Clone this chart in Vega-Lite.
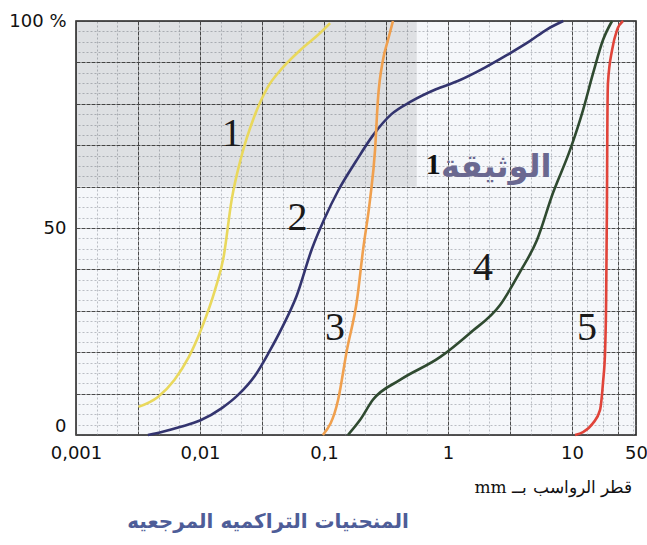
{
  "$schema": "https://vega.github.io/schema/vega-lite/v6.json",
  "width": 560,
  "height": 414,
  "autosize": {"type": "none"},
  "padding": {"left": 76, "top": 21, "right": 11, "bottom": 110},
  "background": "#ffffff",
  "config": {
    "view": {"stroke": "#1e1e1e", "strokeWidth": 1.5, "fill": "#f5f7fa"},
    "font": "DejaVu Sans"
  },
  "title": {
    "text": "المنحنيات التراكميه المرجعيه",
    "orient": "bottom",
    "anchor": "middle",
    "frame": "group",
    "dx": -88,
    "offset": 17,
    "font": "DejaVu Sans",
    "fontSize": 20,
    "fontWeight": "bold",
    "color": "#4e5d98"
  },
  "layer": [
    {
      "data": {"values": [{"band": "upper"}]},
      "mark": {"type": "rect", "fill": "#000000", "opacity": 0.09},
      "encoding": {
        "x": {
          "datum": 0.001, "type": "quantitative",
          "scale": {"type": "log", "domain": [0.001, 10, 50], "range": [0, 496, 560]},
          "axis": {
            "orient": "top",
            "values": [0.001468, 0.002154, 0.004642, 0.006813, 0.01468, 0.02154, 0.04642, 0.06813, 0.1468, 0.2154, 0.4642, 0.6813, 1.468, 2.154, 4.642, 6.813, 14.68, 21.54, 46.42],
            "grid": true, "gridColor": "#8a8f99", "gridDash": [2, 2], "gridWidth": 0.7, "gridOpacity": 0.8,
            "labels": false, "ticks": false, "domain": false, "title": null
          }
        },
        "x2": {"datum": 0.56},
        "y": {
          "datum": 60, "type": "quantitative",
          "scale": {"domain": [0, 100], "nice": false},
          "axis": {
            "orient": "right",
            "values": [2.5, 5, 7.5, 12.5, 15, 17.5, 22.5, 25, 27.5, 32.5, 35, 37.5, 42.5, 45, 47.5, 52.5, 55, 57.5, 62.5, 65, 67.5, 72.5, 75, 77.5, 82.5, 85, 87.5, 92.5, 95, 97.5],
            "grid": true, "gridColor": "#8a8f99", "gridDash": [2, 2], "gridWidth": 0.7, "gridOpacity": 0.8,
            "labels": false, "ticks": false, "domain": false, "title": null
          }
        },
        "y2": {"datum": 100}
      }
    },
    {
      "data": {
        "values": [
          {"curve": "1", "d": 0.00319, "p": 6.8},
          {"curve": "1", "d": 0.00458, "p": 9.2},
          {"curve": "1", "d": 0.00621, "p": 13.3},
          {"curve": "1", "d": 0.00811, "p": 18.8},
          {"curve": "1", "d": 0.0104, "p": 26.1},
          {"curve": "1", "d": 0.0132, "p": 35},
          {"curve": "1", "d": 0.0155, "p": 43},
          {"curve": "1", "d": 0.018, "p": 56.8},
          {"curve": "1", "d": 0.0215, "p": 67.1},
          {"curve": "1", "d": 0.0273, "p": 76.8},
          {"curve": "1", "d": 0.0353, "p": 84.1},
          {"curve": "1", "d": 0.0448, "p": 88.2},
          {"curve": "1", "d": 0.0645, "p": 93},
          {"curve": "1", "d": 0.093, "p": 97.1},
          {"curve": "1", "d": 0.112, "p": 99.5},
          {"curve": "2", "d": 0.0038, "p": 0},
          {"curve": "2", "d": 0.005, "p": 0.8},
          {"curve": "2", "d": 0.007, "p": 2},
          {"curve": "2", "d": 0.01, "p": 3.5},
          {"curve": "2", "d": 0.015, "p": 6.5},
          {"curve": "2", "d": 0.02, "p": 9.5},
          {"curve": "2", "d": 0.028, "p": 14.5},
          {"curve": "2", "d": 0.036, "p": 20},
          {"curve": "2", "d": 0.046, "p": 26},
          {"curve": "2", "d": 0.06, "p": 33.5},
          {"curve": "2", "d": 0.08, "p": 45},
          {"curve": "2", "d": 0.1, "p": 52},
          {"curve": "2", "d": 0.13, "p": 59},
          {"curve": "2", "d": 0.18, "p": 66},
          {"curve": "2", "d": 0.25, "p": 72.5},
          {"curve": "2", "d": 0.35, "p": 77.5},
          {"curve": "2", "d": 0.5, "p": 80.5},
          {"curve": "2", "d": 0.8, "p": 83.5},
          {"curve": "2", "d": 1.2, "p": 85.5},
          {"curve": "2", "d": 2, "p": 88.8},
          {"curve": "2", "d": 3, "p": 91.8},
          {"curve": "2", "d": 4.5, "p": 95},
          {"curve": "2", "d": 6.3, "p": 98},
          {"curve": "2", "d": 8.5, "p": 100},
          {"curve": "3", "d": 0.098, "p": 0},
          {"curve": "3", "d": 0.13, "p": 8.5},
          {"curve": "3", "d": 0.153, "p": 20.5},
          {"curve": "3", "d": 0.1845, "p": 32.6},
          {"curve": "3", "d": 0.2065, "p": 44.7},
          {"curve": "3", "d": 0.235, "p": 56.8},
          {"curve": "3", "d": 0.258, "p": 68.8},
          {"curve": "3", "d": 0.272, "p": 80.9},
          {"curve": "3", "d": 0.299, "p": 90.6},
          {"curve": "3", "d": 0.328, "p": 95.4},
          {"curve": "3", "d": 0.36, "p": 100},
          {"curve": "4", "d": 0.156, "p": 0},
          {"curve": "4", "d": 0.195, "p": 3.6},
          {"curve": "4", "d": 0.248, "p": 8.5},
          {"curve": "4", "d": 0.41, "p": 13.3},
          {"curve": "4", "d": 0.861, "p": 18.8},
          {"curve": "4", "d": 1.5, "p": 24.6},
          {"curve": "4", "d": 2.63, "p": 31.4},
          {"curve": "4", "d": 3.81, "p": 39.4},
          {"curve": "4", "d": 5.22, "p": 47.1},
          {"curve": "4", "d": 7.03, "p": 58.5},
          {"curve": "4", "d": 9.63, "p": 68.8},
          {"curve": "4", "d": 13.2, "p": 78.5},
          {"curve": "4", "d": 17, "p": 87.4},
          {"curve": "4", "d": 21.8, "p": 95.4},
          {"curve": "4", "d": 27.4, "p": 100},
          {"curve": "5", "d": 10.8, "p": 0},
          {"curve": "5", "d": 13.2, "p": 0.7},
          {"curve": "5", "d": 17, "p": 2.9},
          {"curve": "5", "d": 20.2, "p": 6},
          {"curve": "5", "d": 21.8, "p": 12.6},
          {"curve": "5", "d": 23, "p": 20.5},
          {"curve": "5", "d": 23.6, "p": 32.6},
          {"curve": "5", "d": 24.1, "p": 56.8},
          {"curve": "5", "d": 24.3, "p": 73},
          {"curve": "5", "d": 24.7, "p": 85},
          {"curve": "5", "d": 27.4, "p": 93},
          {"curve": "5", "d": 31, "p": 97.8},
          {"curve": "5", "d": 36.1, "p": 100}
        ]
      },
      "mark": {"type": "line", "strokeWidth": 2.6, "interpolate": "monotone"},
      "encoding": {
        "x": {
          "field": "d", "type": "quantitative",
          "scale": {"type": "log", "domain": [0.001, 10, 50], "range": [0, 496, 560]},
          "axis": {
            "orient": "bottom",
            "values": [0.001, 0.003162, 0.01, 0.03162, 0.1, 0.3162, 1, 3.162, 10, 31.62, 50],
            "grid": true, "gridColor": "#4a4a4a", "gridWidth": 1, "gridDash": [4, 1],
            "labelExpr": "datum.value == 0.001 ? '0,001' : datum.value == 0.01 ? '0,01' : datum.value == 0.1 ? '0,1' : datum.value == 1 ? '1' : datum.value == 10 ? '10' : datum.value == 50 ? '50' : ''",
            "labelFont": "DejaVu Sans", "labelFontSize": 18, "labelColor": "#111111",
            "labelPadding": 9, "labelOverlap": false, "labelFlush": false,
            "ticks": false, "domain": false,
            "title": "\u202bقطر الرواسب بــ mm\u202c",
            "titleFont": "DejaVu Serif", "titleFontSize": 17, "titleFontWeight": "normal", "titleColor": "#111111",
            "titleX": 398, "titleY": 52, "titleAlign": "left", "titleBaseline": "middle", "titleAngle": 0
          }
        },
        "y": {
          "field": "p", "type": "quantitative",
          "scale": {"domain": [0, 100], "nice": false},
          "axis": {
            "orient": "left",
            "values": [0, 10, 20, 30, 40, 50, 60, 70, 80, 90, 100],
            "grid": true, "gridColor": "#4a4a4a", "gridWidth": 1, "gridDash": [4, 1],
            "labelExpr": "datum.value == 100 ? '100 %' : datum.value == 50 ? '50' : datum.value == 0 ? '0' : ''",
            "labelFont": "DejaVu Sans", "labelFontSize": 18, "labelColor": "#111111",
            "labelBaseline": {"condition": {"test": "datum.value == 0", "value": "bottom"}, "value": "middle"},
            "labelPadding": 10, "labelOverlap": false, "labelFlush": false,
            "ticks": false, "domain": false, "title": null
          }
        },
        "color": {
          "field": "curve", "type": "nominal",
          "scale": {"domain": ["1", "2", "3", "4", "5"], "range": ["#e9d85c", "#33346f", "#f0a04e", "#2f4a30", "#e0443a"]},
          "legend": null
        },
        "order": {"field": "p", "type": "quantitative"}
      }
    },
    {
      "data": {
        "values": [
          {"n": "1", "d": 0.018, "p": 72.7},
          {"n": "2", "d": 0.061, "p": 52.4},
          {"n": "3", "d": 0.1227, "p": 25.8},
          {"n": "4", "d": 1.915, "p": 40.3},
          {"n": "5", "d": 14.6, "p": 25.8}
        ]
      },
      "mark": {"type": "text", "font": "Liberation Serif", "fontSize": 40, "color": "#1a1a1a", "baseline": "middle", "align": "center"},
      "encoding": {
        "x": {"field": "d", "type": "quantitative", "scale": {"type": "log", "domain": [0.001, 10, 50], "range": [0, 496, 560]}, "axis": null},
        "y": {"field": "p", "type": "quantitative", "scale": {"domain": [0, 100], "nice": false}, "axis": null},
        "text": {"field": "n"}
      }
    },
    {
      "data": {"values": [{"t": "الوثيقة", "d": 2.45, "p": 64.7}]},
      "mark": {"type": "text", "font": "DejaVu Sans", "fontSize": 32, "fontWeight": "bold", "color": "#6a6890", "baseline": "middle", "align": "center"},
      "encoding": {
        "x": {"field": "d", "type": "quantitative", "scale": {"type": "log", "domain": [0.001, 10, 50], "range": [0, 496, 560]}, "axis": null},
        "y": {"field": "p", "type": "quantitative", "scale": {"domain": [0, 100], "nice": false}, "axis": null},
        "text": {"field": "t"}
      }
    },
    {
      "data": {"values": [{"t": "1", "d": 0.76, "p": 65.2}]},
      "mark": {"type": "text", "font": "Liberation Serif", "fontSize": 30, "fontWeight": "bold", "color": "#111111", "baseline": "middle", "align": "center"},
      "encoding": {
        "x": {"field": "d", "type": "quantitative", "scale": {"type": "log", "domain": [0.001, 10, 50], "range": [0, 496, 560]}, "axis": null},
        "y": {"field": "p", "type": "quantitative", "scale": {"domain": [0, 100], "nice": false}, "axis": null},
        "text": {"field": "t"}
      }
    }
  ],
  "resolve": {"axis": {"x": "independent", "y": "independent"}}
}
